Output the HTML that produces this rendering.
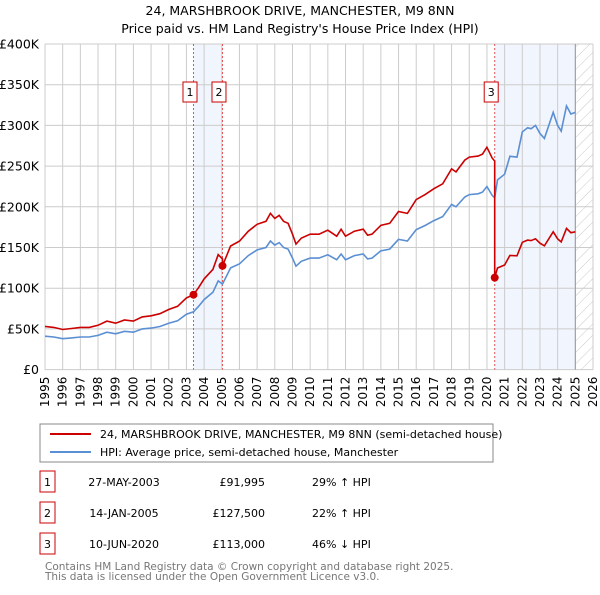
<!DOCTYPE html>
<html><head><meta charset="utf-8"><style>
body{margin:0;background:#fff;font-family:"Liberation Sans","DejaVu Sans",sans-serif;}
svg text{font-family:"DejaVu Sans","Liberation Sans",sans-serif;}
</style></head><body>
<svg id="c" width="600" height="590" xmlns="http://www.w3.org/2000/svg">
<defs><pattern id="hatch" width="8" height="8" patternUnits="userSpaceOnUse" patternTransform="rotate(45)"><line x1="0" y1="0" x2="0" y2="8" stroke="#bbb" stroke-width="0.8"/></pattern></defs>
<text x="300" y="15" text-anchor="middle" font-size="12.5">24, MARSHBROOK DRIVE, MANCHESTER, M9 8NN</text>
<text x="300" y="33" text-anchor="middle" font-size="12.5">Price paid vs. HM Land Registry's House Price Index (HPI)</text>
<g id="plot"></g>
<rect x="40" y="424" width="453" height="38" fill="#fff" stroke="#888"/>
<line x1="50" y1="434" x2="91" y2="434" stroke="#cc0000" stroke-width="2"/>
<text x="100" y="438" font-size="11">24, MARSHBROOK DRIVE, MANCHESTER, M9 8NN (semi-detached house)</text>
<line x1="50" y1="452" x2="91" y2="452" stroke="#5b8fd4" stroke-width="2"/>
<text x="100" y="456" font-size="11">HPI: Average price, semi-detached house, Manchester</text>
<g id="table" font-size="11"></g>
<text x="45" y="570" font-size="10.5" fill="#777">Contains HM Land Registry data © Crown copyright and database right 2025.</text>
<text x="45" y="580" font-size="10.5" fill="#777">This data is licensed under the Open Government Licence v3.0.</text>
</svg>
<script>
const hpiYears=[1995,1995.5,1996,1996.5,1997,1997.5,1998,1998.5,1999,1999.5,2000,2000.5,2001,2001.5,2002,2002.5,2003,2003.4,2003.7,2004,2004.5,2004.8,2005.04,2005.5,2006,2006.5,2007,2007.5,2007.75,2008,2008.25,2008.5,2008.75,2009,2009.2,2009.5,2010,2010.5,2011,2011.5,2011.75,2012,2012.5,2013,2013.25,2013.5,2014,2014.5,2015,2015.5,2016,2016.5,2017,2017.5,2018,2018.25,2018.75,2019,2019.5,2019.75,2020,2020.3,2020.44,2020.6,2021,2021.3,2021.7,2022,2022.3,2022.5,2022.75,2023,2023.25,2023.75,2024,2024.2,2024.5,2024.75,2025];
const hpiValues=[41,40,38,39,40,40,42,46,44,47,46,50,51,53,57,60,68,71,78,86,95,109,105,125,130,140,147,150,158,153,156,150,148,137,127,133,137,137,141,135,142,135,140,142,136,137,146,148,160,158,172,177,183,188,203,200,212,215,216,218,225,214,211,233,240,262,261,292,297,296,300,290,284,316,300,293,324,314,316];
const saleLabels=["1","2","3"];
const saleDates=[2003.40,2005.04,2020.44];
const salePrices=[91995,127500,113000];
const saleDateText=["27-MAY-2003","14-JAN-2005","10-JUN-2020"];
const salePriceText=["£91,995","£127,500","£113,000"];
const saleHpiText=["29% ↑ HPI","22% ↑ HPI","46% ↓ HPI"];
const yTicks=[0,50,100,150,200,250,300,350,400];
const xTicks=[];for(let y=1995;y<=2026;y++)xTicks.push(y);

const X0=45,X1=593,Y0=369.6,Y1=44;
const xs=t=>X0+(t-1995)/(2026-1995)*(X1-X0);
const ys=v=>Y0-v/400*(Y0-Y1);
const NS="http://www.w3.org/2000/svg";
const plot=document.getElementById('plot');
function mk(tag,attrs,parent){const e=document.createElementNS(NS,tag);for(const k in attrs)e.setAttribute(k,attrs[k]);(parent||plot).appendChild(e);return e;}
function hpiAt(t){for(let i=1;i<hpiYears.length;i++){if(t<=hpiYears[i]){const f=(t-hpiYears[i-1])/(hpiYears[i]-hpiYears[i-1]);return hpiValues[i-1]+f*(hpiValues[i]-hpiValues[i-1]);}}return hpiValues[hpiValues.length-1];}
const dataEnd=hpiYears[hpiYears.length-1];
let r=mk('rect',{x:xs(saleDates[0]),y:Y1,width:xs(saleDates[1])-xs(saleDates[0]),height:Y0-Y1,fill:'#eef3fc',opacity:0.8});

r=mk('rect',{x:xs(saleDates[2]),y:Y1,width:xs(dataEnd)-xs(saleDates[2]),height:Y0-Y1,fill:'#eef3fc',opacity:0.8});

r=mk('rect',{x:xs(dataEnd),y:Y1,width:X1-xs(dataEnd),height:Y0-Y1,fill:'url(#hatch)'});

xTicks.forEach(t=>{const l=mk('line',{x1:xs(t),x2:xs(t),y1:Y1,y2:Y0,stroke:'#ccc','stroke-width':1});

const tx=mk('text',{x:0,y:0,'font-size':12,'text-anchor':'end',transform:`translate(${xs(t)+4},${Y0+7}) rotate(-90)`});tx.textContent=t;
});
yTicks.forEach(v=>{const l=mk('line',{x1:X0,x2:X1,y1:ys(v),y2:ys(v),stroke:'#ccc','stroke-width':1});

const tx=mk('text',{x:39,y:ys(v)+4.5,'font-size':12.5,'text-anchor':'end'});tx.textContent=v===0?'£0':'£'+v+'K';
});
let ax=mk('line',{x1:xs(dataEnd),x2:xs(dataEnd),y1:Y1,y2:Y0,stroke:'#999','stroke-width':1});

saleDates.forEach((d,i)=>{const l=mk('line',{x1:xs(d),x2:xs(d),y1:Y1,y2:Y0,stroke:'#e05555','stroke-width':1,'stroke-dasharray':'2,2'});

const b=mk('rect',{x:xs(d)-10.5,y:82,width:14,height:20,fill:'#fff',stroke:'#cc0000'});

const t=mk('text',{x:xs(d)-3.5,y:96,'font-size':11,'text-anchor':'middle'});t.textContent=saleLabels[i];
});
let pts=hpiYears.map((t,i)=>xs(t).toFixed(1)+','+ys(hpiValues[i]).toFixed(1)).join(' ');
let pl=mk('polyline',{points:pts,fill:'none',stroke:'#5b8fd4','stroke-width':1.6});

const ratios=saleDates.map((d,i)=>salePrices[i]/1000/hpiAt(d));
const redPts=[];
function ratioFor(t){let k=0;for(let i=0;i<saleDates.length;i++)if(t>=saleDates[i])k=i;return ratios[k];}
hpiYears.forEach((t,i)=>{
  saleDates.forEach((d,j)=>{if(j>0&&hpiYears[i-1]!==undefined&&hpiYears[i-1]<d&&t>=d){const h=hpiAt(d);redPts.push([d,h*ratios[j-1]]);redPts.push([d,h*ratios[j]]);}});
  redPts.push([t,hpiValues[i]*ratioFor(t)]);
});
pl=mk('polyline',{points:redPts.map(p=>xs(p[0]).toFixed(1)+','+ys(p[1]).toFixed(1)).join(' '),fill:'none',stroke:'#cc0000','stroke-width':1.6});

saleDates.forEach((d,i)=>{const c=mk('circle',{cx:xs(d),cy:ys(salePrices[i]/1000),r:4,fill:'#cc0000'});
});
const tb=document.getElementById('table');
const rowY=[482,513,544];
saleLabels.forEach((s,i)=>{const y=rowY[i];
const b=mk('rect',{x:40,y:y-11,width:15,height:21,fill:'#fff',stroke:'#cc0000'},tb);

let t=mk('text',{x:47.5,y:y+4,'text-anchor':'middle'},tb);t.textContent=s;

t=mk('text',{x:124,y:y+4,'text-anchor':'middle'},tb);t.textContent=saleDateText[i];

t=mk('text',{x:265,y:y+4,'text-anchor':'end'},tb);t.textContent=salePriceText[i];

t=mk('text',{x:312,y:y+4},tb);t.textContent=saleHpiText[i];
});
</script>
</body></html>
